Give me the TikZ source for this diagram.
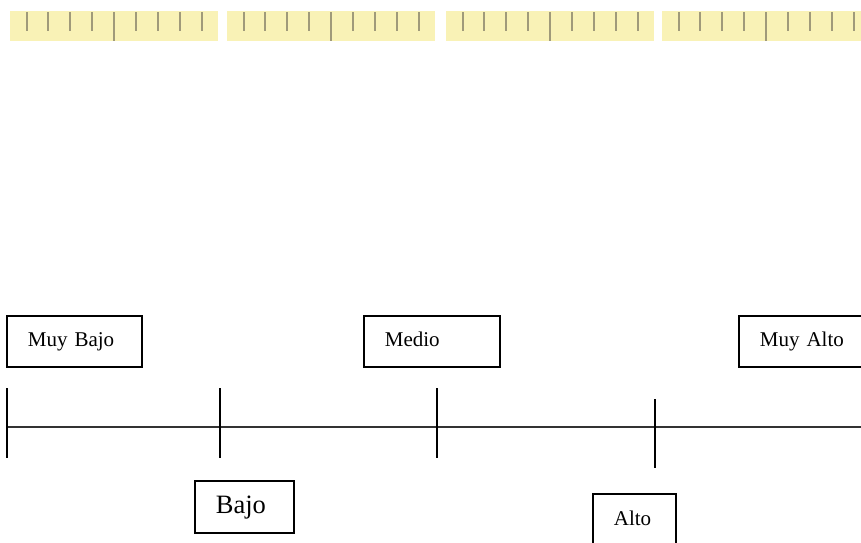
\documentclass[tikz,border=0pt]{standalone}
\usepackage{fontspec}
\setmainfont{Liberation Serif}
\definecolor{rulerfill}{RGB}{249,242,182}
\definecolor{rulertick}{RGB}{160,154,122}

\begin{document}
\begin{tikzpicture}[x=1pt,y=-1pt,
    levelbox/.style={draw, line width=1.7pt, anchor=north west, inner xsep=21pt, inner ysep=0pt,
        align=left, font=\fontsize{21}{25}\selectfont, text height=14.7pt, text depth=4.6pt,
        minimum height=51pt},
    scaletick/.style={line width=1.8pt, black}]

    \useasboundingbox (0,0) rectangle (861,542);
    \clip (0,0) rectangle (861,542);

    % Ruler strips
    \foreach \sx in {10,227,446,662} {
        \fill[rulerfill] (\sx,11) rectangle +(208,30);
        \foreach \i in {0,1,2,3,5,6,7,8}
            \draw[rulertick, line width=2pt] (\sx+16.5+\i*21.9,12) -- +(0,19);
        \draw[rulertick, line width=1.8pt] (\sx+104,12) -- +(0,29);
    }

    % Labels above the scale
    \node[levelbox, text width=93pt] (muybajo) at (6,315) {Muy Bajo};
    \node[levelbox, text width=94pt] (medio) at (363,315) {Medio};
    \node[levelbox, text width=94pt] (muyalto) at (738,315) {Muy Alto};

    % Labels below the scale
    \node[levelbox, text width=57pt, minimum height=52pt,
        font=\fontsize{26.5}{30}\selectfont, text height=18.5pt, text depth=5.8pt] (bajo) at (194,480) {Bajo};
    \node[levelbox, text width=41pt, minimum height=54pt] (alto) at (592,493) {Alto};

    % Scale line
    \coordinate (s0) at (7,427);
    \coordinate (s1) at (866,427);
    \draw[line width=1.8pt, black!80] (s0) -- (s1);

    % Tick marks
    \foreach \tx/\ta/\tb [count=\k] in {7/388/458, 220/388/458, 437/388/458, 655/399/468} {
        \coordinate (t\k a) at (\tx,\ta);
        \coordinate (t\k b) at (\tx,\tb);
        \draw[scaletick] (t\k a) -- (t\k b);
    }
\end{tikzpicture}
\end{document}
